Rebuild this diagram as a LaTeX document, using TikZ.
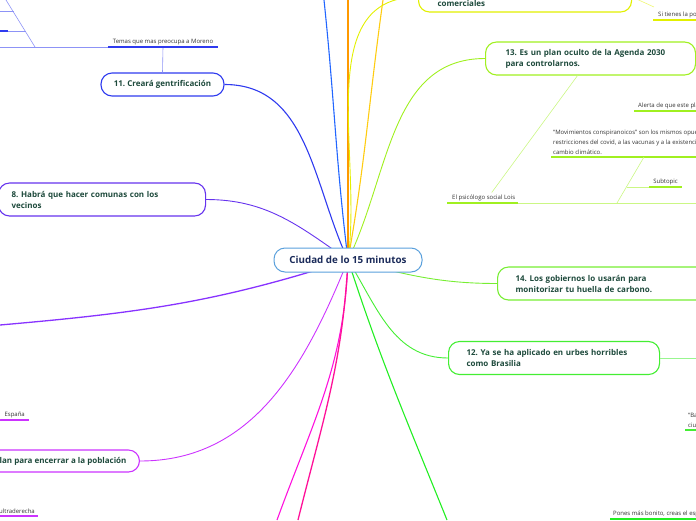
\documentclass[tikz,border=0pt]{standalone}
\usepackage{fontspec}
\setmainfont{Open Sans}
\usetikzlibrary{positioning,backgrounds}
\definecolor{cCentre}{HTML}{5AA0DC}
\definecolor{cCentreTxt}{HTML}{1B2B5A}
\definecolor{cTopicTxt}{HTML}{1E4A3C}
\definecolor{cSubTxt}{HTML}{333333}
\definecolor{cBlueA}{HTML}{2F3BEF}
\definecolor{cBlueB}{HTML}{2266FF}
\definecolor{cOrange}{HTML}{FF9900}
\definecolor{cGold}{HTML}{FFCC11}
\definecolor{cYellow}{HTML}{E2F000}
\definecolor{cLime}{HTML}{A0F020}
\definecolor{cGreenA}{HTML}{77EE33}
\definecolor{cGreenB}{HTML}{44EE33}
\definecolor{cGreenC}{HTML}{22EE22}
\definecolor{cIndigo}{HTML}{6633EE}
\definecolor{cViolet}{HTML}{8833FF}
\definecolor{cPurple}{HTML}{CC33FF}
\definecolor{cMagenta}{HTML}{FF11DD}
\definecolor{cPink}{HTML}{FF1199}
\frenchspacing

\begin{document}
\begin{tikzpicture}[x=1pt, y=-1pt,
      topic/.style={draw=#1, line width=1.1pt, rounded corners=11pt, fill=white,
                    align=left, text=cTopicTxt, minimum height=33pt,
                    font=\bfseries\fontsize{8}{11}\selectfont},
      sub/.style={font=\fontsize{6}{10}\selectfont, text=cSubTxt,
                  inner sep=2pt, anchor=south west, align=left},
      link/.style={line width=1.1pt, draw=#1},
      ul/.style={line width=1.4pt, draw=#1},
      twig/.style={line width=0.6pt, draw=#1!55}]
    \useasboundingbox (0,0) rectangle (696,520);
    \clip (0,0) rectangle (696,520);
    \node[draw=cCentre, line width=1pt, rounded corners=11pt, fill=white,
          minimum width=148pt, minimum height=24pt, text=cCentreTxt,
          font=\bfseries\fontsize{9.8}{11}\selectfont] (ctr) at (348,260) {Ciudad de lo 15 minutos};
    % topics round the centre
    \node[topic=cBlueA, minimum width=123pt, minimum height=23pt, align=center] (n11) at (162.5,84.5) {11. Creará gentrificación};
    \node[topic=cIndigo, text width=181pt, inner xsep=13pt, anchor=west] (n8) at (-2,199.5) {8. Habrá que hacer comunas con los\\ vecinos};
    \node[topic=cPurple, minimum height=22pt, inner xsep=13pt, anchor=east] (n10) at (140,461) {Plan para encerrar a la población};
    \node[topic=cYellow, minimum height=0pt, text height=20pt, text depth=2pt, inner ysep=4pt,
          text width=175pt, inner xsep=19pt, anchor=base west] (com) at (418,6) {comerciales};
    \node[topic=cLime, text width=170pt, inner xsep=20pt, anchor=west] (n13) at (485,58.5) {13. Es un plan oculto de la Agenda 2030\\ para controlarnos.};
    \node[topic=cGreenA, text width=182pt, inner xsep=18pt, anchor=west] (n14) at (497,283.5) {14. Los gobiernos lo usarán para\\ monitorizar tu huella de carbono.};
    \node[topic=cGreenB, text width=175pt, inner xsep=18pt, anchor=west] (n12) at (448,358) {12. Ya se ha aplicado en urbes horribles\\ como Brasilia};
    % subtopics
    \node[sub, minimum width=110pt, anchor=south] (temas) at (163,47) {Temas que mas preocupa a Moreno};
    \node[sub, inner xsep=5pt] (si) at (653,20) {Si tienes la posibilidad};
    \node[sub, inner xsep=4pt] (alerta) at (634,111) {Alerta de que este plan};
    \node[sub] (movs) at (551,157) {“Movimientos conspiranoicos” son los mismos opuestos a las\\ restricciones del covid, a las vacunas y a la existencia del\\ cambio climático.};
    \node[sub, minimum width=33pt, anchor=south] (subt) at (665.5,187) {Subtopic};
    \node[sub, inner xsep=5pt] (lois) at (447,203) {El psicólogo social Lois};
    \node[sub, inner xsep=3pt] (ba) at (685,430) {“Ba\\ ciu};
    \node[sub, inner xsep=3pt] (pones) at (610,519) {Pones más bonito, creas el espacio};
    \node[sub, minimum width=29pt] (esp) at (0,420) {España};
    \node[sub, anchor=south east, inner xsep=0pt] (ultra) at (35,516) {ultraderecha};
    \coordinate (eTop) at (324,0);
    \coordinate (eOr) at (348,0);
    \coordinate (eGold) at (383,0);
    \coordinate (eLeft) at (0,325);
    \coordinate (eMag) at (277,520);
    \coordinate (ePink) at (298,520);
    \coordinate (eGrn) at (447,520);
    \coordinate (eR12) at (696,358);
    \coordinate (eLois) at (696,203);
    \coordinate (eLoisUl) at (518,203);
    \begin{scope}[on background layer]
      \draw[link=cBlueB] (ctr.center) to[out=97,in=-84] (eTop);
      \draw[link=cOrange] (ctr.center) -- (eOr);
      \draw[link=cGold] (ctr.center) to[out=80,in=-98] (eGold);
      \draw[link=cYellow, line width=0.9pt] (ctr.center) to[out=82,in=180] (com.west);
      \draw[link=cLime, line width=0.9pt] (ctr.center) to[out=64,in=180] (n13.west);
      \draw[link=cBlueA] (ctr.center) to[out=115,in=0] (n11.east);
      \draw[link=cIndigo, line width=0.9pt] (ctr.center) to[out=145,in=0] (n8.east);
      \draw[link=cViolet, line width=1.3pt] (ctr.center) to[out=198,in=5] (eLeft);
      \draw[link=cPurple, line width=0.9pt] (ctr.center) to[out=-112,in=0] (n10.east);
      \draw[link=cMagenta] (ctr.center) to[out=-92,in=70] (eMag);
      \draw[link=cPink, line width=1.3pt] (ctr.center) to[out=-93,in=76] (ePink);
      \draw[link=cGreenC] (ctr.center) to[out=-72,in=112] (eGrn);
      \draw[link=cGreenB, line width=0.9pt] (ctr.center) to[out=-58,in=180] (n12.west);
      \draw[link=cGreenA, line width=0.9pt] (ctr.center) to[out=-14,in=180] (n14.west);
    \end{scope}
    % twigs and underlines
    \draw[twig=cBlueA] (n11.north) -- (temas.south);
    \draw[ul=cBlueA] (temas.south west) -- (temas.south east);
    \draw[twig=cBlueA] (temas.south west) -- (0,47);
    \draw[twig=cBlueA] (35,47) -- (6,0);
    \draw[twig=cBlueA] (0,31) -- (26,31);
    \draw[twig=cBlueA] (0,11) -- (14,11);
    \draw[ul=cBlueA] (0,31) -- (8,31);
    \draw[twig=cYellow] (com.east) -- (654,7);
    \draw[ul=cYellow] (si.south west) -- ++(60,0);
    \draw[ul=cLime] (alerta.south west) -- ++(70,0);
    \draw[ul=cLime] (movs.south west) -- ++(160,0);
    \draw[ul=cLime] (subt.south west) -- (subt.south east);
    \draw[ul=cLime] (lois.south west) -- (eLoisUl);
    \draw[twig=cLime] ([xshift=-13pt]n13.south) -- ([xshift=8pt]lois.north);
    \draw[twig=cLime] (eLoisUl) -- (eLois);
    \draw[twig=cLime] (617,203) -- (644,157);
    \draw[twig=cLime] (627,187) -- (subt.south west);
    \draw[twig=cGreenB] (n12.east) -- (eR12);
    \draw[ul=cGreenB] (ba.south west) -- ++(20,0);
    \draw[ul=cGreenC] (pones.south west) -- ++(100,0);
    \draw[ul=cPurple] (esp.south west) -- (esp.south east);
    \draw[twig=cPurple] (esp.south west) -- ++(-6,-10);
    \draw[ul=cPurple] (ultra.south west) -- ([xshift=3pt]ultra.south east);
  \end{tikzpicture}
\end{document}
